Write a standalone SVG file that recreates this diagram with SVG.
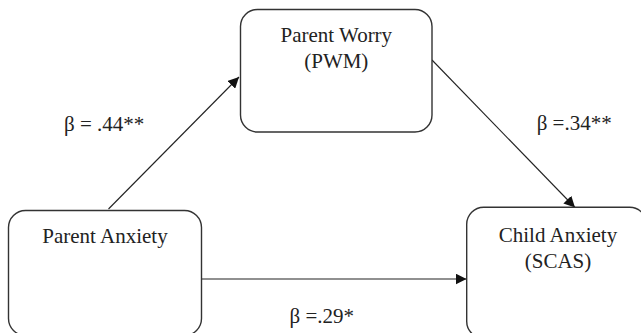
<svg xmlns="http://www.w3.org/2000/svg" width="641" height="333" viewBox="0 0 641 333">
<style>
.box{fill:#fff;stroke:#333;stroke-width:1.4}
.t{font-family:"Liberation Serif","Times New Roman",serif;font-size:21px;fill:#222}
.c{text-anchor:middle}
.edge{stroke:#222;stroke-width:1.1;fill:none;marker-end:url(#ah)}
</style>
<defs>
<marker id="ah" markerUnits="userSpaceOnUse" markerWidth="12" markerHeight="11" refX="11" refY="5.5" orient="auto">
<path d="M0,0 L11,5.5 L0,11 Z" fill="#111"/>
</marker>
</defs>
<rect width="641" height="333" fill="#fff"/>
<g id="connectors">
<line class="edge" x1="108.5" y1="209" x2="239" y2="77"/>
<line class="edge" x1="432" y1="60" x2="575" y2="207.5"/>
<line class="edge" x1="199" y1="279" x2="466.5" y2="279"/>
</g>
<g id="node-pwm">
<rect class="box" x="240.5" y="9.5" width="191.5" height="122.5" rx="17"/>
<text class="t c" x="336.3" y="42">Parent Worry</text>
<text class="t c" x="336.3" y="68">(PWM)</text>
</g>
<g id="node-parent-anxiety">
<rect class="box" x="8.5" y="210.5" width="193" height="125" rx="17"/>
<text class="t c" x="105" y="243">Parent Anxiety</text>
</g>
<g id="node-child-anxiety">
<rect class="box" x="466.7" y="207.3" width="180" height="131" rx="17"/>
<text class="t c" x="558" y="242">Child Anxiety</text>
<text class="t c" x="558" y="268">(SCAS)</text>
</g>
<g id="labels">
<text class="t" x="64" y="131">β = .44**</text>
<text class="t" x="536.7" y="130">β =.34**</text>
<text class="t" x="289.5" y="323">β =.29*</text>
</g>
</svg>
